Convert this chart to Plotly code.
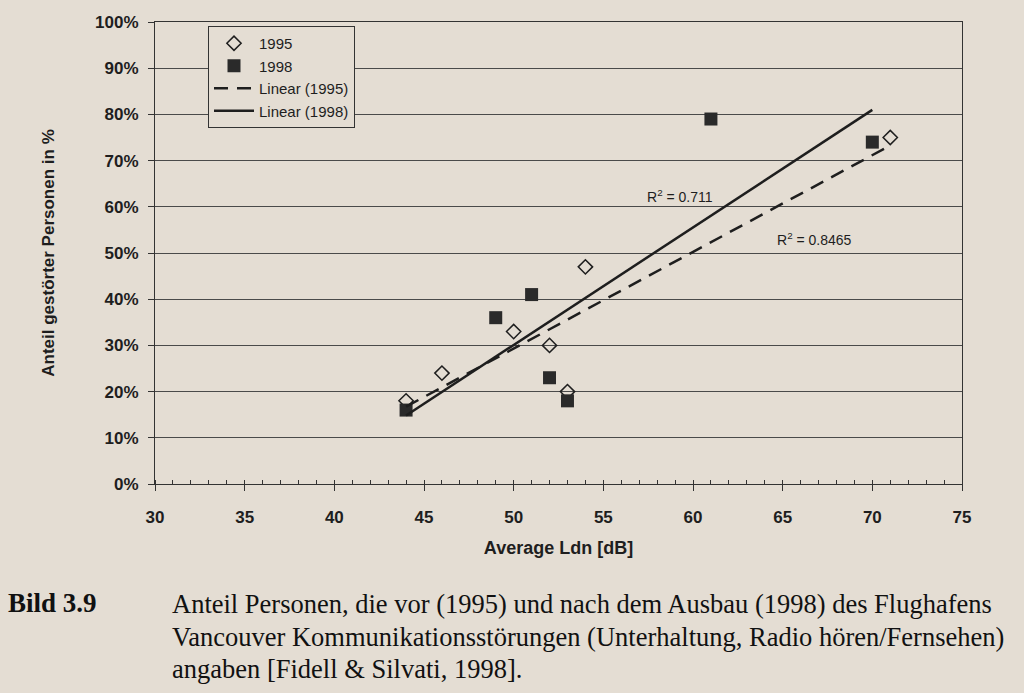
import numpy as np
import plotly.graph_objects as go

# Data
x_1995 = [44, 46, 50, 52, 53, 54, 71]
y_1995 = [18, 24, 33, 30, 20, 47, 75]
x_1998 = [44, 49, 51, 52, 53, 61, 70]
y_1998 = [16, 36, 41, 23, 18, 79, 74]

r2_1995_label = "R<sup>2</sup> = 0.8465"
r2_1998_label = "R<sup>2</sup> = 0.711"
x_ticks = [30, 35, 40, 45, 50, 55, 60, 65, 70, 75]
y_ticks = [0, 10, 20, 30, 40, 50, 60, 70, 80, 90, 100]
y_ticklabels = [f"{v}%" for v in y_ticks]

caption_label = "Bild 3.9"
caption_lines = [
    "Anteil Personen, die vor (1995) und nach dem Ausbau (1998) des Flughafens",
    "Vancouver Kommunikationsstörungen (Unterhaltung, Radio hören/Fernsehen)",
    "angaben [Fidell &amp; Silvati, 1998].",
]

BG = "#e4ddd3"
INK = "#1e1e1e"
GRID = "#4a4a4a"
SANS = "Arial, Liberation Sans"
SERIF = "Liberation Serif, Times New Roman"


def fit(xs, ys):
    k, d = np.polyfit(xs, ys, 1)
    xx = np.array([min(xs), max(xs)], dtype=float)
    return xx, k * xx + d


fx95, fy95 = fit(x_1995, y_1995)
fx98, fy98 = fit(x_1998, y_1998)

fig = go.Figure()
fig.add_trace(go.Scatter(x=x_1995, y=y_1995, mode="markers", name="1995",
                         marker=dict(symbol="diamond-open", size=11, color=INK,
                                     line=dict(width=1.5, color=INK))))
fig.add_trace(go.Scatter(x=x_1998, y=y_1998, mode="markers", name="1998",
                         marker=dict(symbol="square", size=13, color="#2a2a2a")))
fig.add_trace(go.Scatter(x=fx95, y=fy95, mode="lines", name="Linear (1995)",
                         line=dict(color=INK, width=2.5, dash="14px,9px")))
fig.add_trace(go.Scatter(x=fx98, y=fy98, mode="lines", name="Linear (1998)",
                         line=dict(color=INK, width=2.5)))

fig.add_annotation(x=59.3, y=62.3, text=r2_1998_label, showarrow=False,
                   font=dict(family=SANS, size=14, color=INK))
fig.add_annotation(x=66.8, y=53.0, text=r2_1995_label, showarrow=False,
                   font=dict(family=SANS, size=14, color=INK))

# caption
fig.add_annotation(xref="paper", yref="paper", x=-(155 - 6) / 807, y=-(603 - 484) / 462,
                   xanchor="left", yanchor="middle", text=f"<b>{caption_label}</b>",
                   showarrow=False,
                   font=dict(family=SERIF, size=27, color="#111"))
for i, line in enumerate(caption_lines):
    fig.add_annotation(xref="paper", yref="paper", x=(170 - 155) / 807,
                       y=-(604 + 32.5 * i - 484) / 462,
                       xanchor="left", yanchor="middle", text=line, showarrow=False,
                       font=dict(family=SERIF, size=26.5, color="#111"))

fig.update_layout(
    width=1024, height=693,
    margin=dict(l=155, r=62, t=22, b=209),
    paper_bgcolor=BG, plot_bgcolor=BG,
    font=dict(family=SANS, color=INK),
    showlegend=True,
    legend=dict(x=(208 - 155) / 807, y=1 - (26 - 22) / 462, xanchor="left", yanchor="top",
                bgcolor=BG, bordercolor="#333", borderwidth=1,
                font=dict(size=15, family=SANS, color=INK),
                tracegroupgap=0, itemwidth=40),
)
fig.update_xaxes(range=[30, 75], tickvals=x_ticks, ticktext=[f"<b>{t}</b>" for t in x_ticks],
                 showgrid=False, zeroline=False,
                 showline=True, linecolor="#333", linewidth=1, mirror=True,
                 ticks="outside", ticklen=6, tickcolor="#333", ticklabelstandoff=12,
                 minor=dict(dtick=1, ticks="inside", ticklen=4, tickcolor="#333", showgrid=False),
                 tickfont=dict(size=17, family=SANS, color=INK),
                 title=dict(text="<b>Average Ldn [dB]</b>", font=dict(size=18), standoff=14))
fig.update_yaxes(range=[0, 100], tickvals=y_ticks, ticktext=[f"<b>{t}</b>" for t in y_ticklabels],
                 showgrid=True, gridcolor=GRID, gridwidth=1, zeroline=False,
                 showline=True, linecolor="#333", linewidth=1, mirror=True,
                 ticks="outside", ticklen=6, tickcolor="#333", ticklabelstandoff=6,
                 tickfont=dict(size=17, family=SANS, color=INK),
                 title=dict(text="<b>Anteil gestörter Personen in %</b>", font=dict(size=17), standoff=36))

fig.write_html("out.html")
